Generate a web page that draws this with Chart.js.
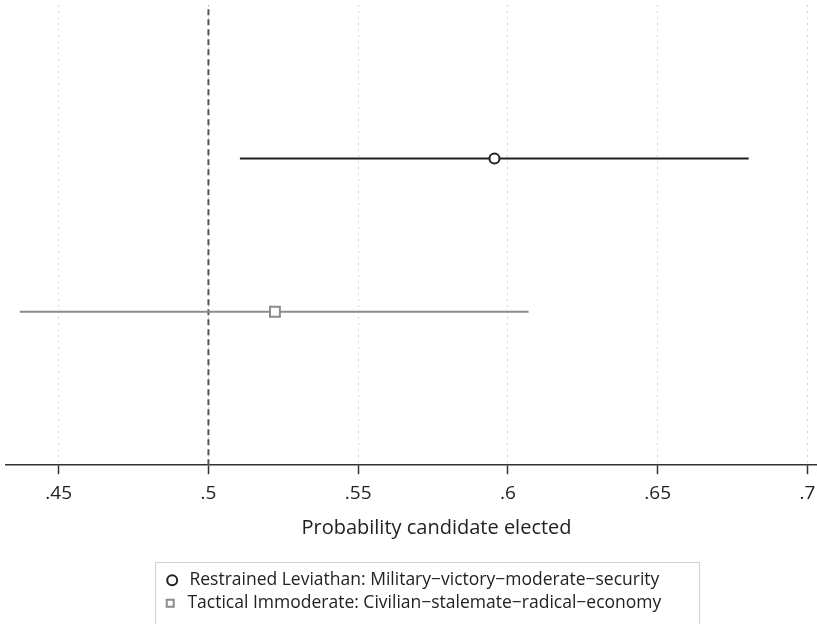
<!DOCTYPE html>
<html>
<head>
<meta charset="utf-8">
<script src="https://cdn.jsdelivr.net/npm/chart.js@4"></script>
<style>
  html, body { margin: 0; padding: 0; background: #fff; }
  #wrap { width: 817px; height: 624px; }
</style>
</head>
<body>
<div id="wrap"><canvas id="grafica" width="817" height="624"></canvas></div>
<script>
// estimates
const seriesNames = ['Restrained Leviathan: Military\u2212victory\u2212moderate\u2212security',
                     'Tactical Immoderate: Civilian\u2212stalemate\u2212radical\u2212economy'];
const rowPos = [2, 1];
const estimates = [0.5955, 0.5222];
const lowerCI = [0.5105, 0.4370];
const upperCI = [0.6804, 0.6069];
const refLine = 0.5;
const tickValues = [0.45, 0.5, 0.55, 0.6, 0.65, 0.7];
const tickLabels = ['.45', '.5', '.55', '.6', '.65', '.7'];

const lineColors = ['#222222', '#8c8c8c'];
const FONT = 'Open Sans';

const datasets = [];
// point estimates first so the legend shows them
seriesNames.forEach((name, i) => {
    datasets.push({
        label: name,
        data: [{x: estimates[i], y: rowPos[i]}],
        showLine: false,
        pointStyle: i === 0 ? 'circle' : 'rect',
        pointRadius: i === 0 ? 5 : 7,
        pointBorderWidth: 2,
        pointBorderColor: lineColors[i],
        pointBackgroundColor: '#ffffff',
        borderColor: lineColors[i],
        backgroundColor: '#ffffff',
        order: 0
    });
});
seriesNames.forEach((name, i) => {
    datasets.push({
        label: 'ci' + i,
        data: [{x: lowerCI[i], y: rowPos[i]}, {x: upperCI[i], y: rowPos[i]}],
        showLine: true,
        borderColor: lineColors[i],
        borderWidth: 2,
        pointRadius: 0,
        order: 1
    });
});
datasets.push({
    label: 'ref',
    data: [{x: refLine, y: 0}, {x: refLine, y: 3}],
    showLine: true,
    borderColor: '#555555',
    borderWidth: 2,
    borderDash: [6, 4],
    pointRadius: 0,
    order: 2
});

const legendBox = {
    id: 'legendBox',
    afterDraw(chart) {
        const lg = chart.legend;
        if (!lg || !lg.legendHitBoxes.length) return;
        const hb = lg.legendHitBoxes;
        let l = Infinity, r = -Infinity, t = Infinity;
        hb.forEach(b => { l = Math.min(l, b.left); r = Math.max(r, b.left + b.width); t = Math.min(t, b.top); });
        const ctx = chart.ctx;
        ctx.save();
        ctx.strokeStyle = '#d0d0d0';
        ctx.lineWidth = 1;
        ctx.strokeRect(Math.round(l - 7) + 0.5, Math.round(t - 10) + 0.5, Math.round(r - l + 44), 80);
        ctx.restore();
    }
};

new Chart(document.getElementById('grafica'), {
    type: 'scatter',
    data: { datasets: datasets },
    plugins: [legendBox],
    options: {
        responsive: false,
        animation: false,
        layout: { autoPadding: false, padding: { top: 5, left: 6, right: 0, bottom: 2 } },
        scales: {
            x: {
                type: 'linear',
                min: 0.4324,
                max: 0.7032,
                afterBuildTicks: (axis) => { axis.ticks = tickValues.map(v => ({value: v})); },
                afterFit: (axis) => { axis.paddingLeft = 0; axis.paddingRight = 0; },
                ticks: {
                    callback: (v) => tickLabels[tickValues.indexOf(v)],
                    color: '#222',
                    font: { family: FONT, size: 19 },
                    padding: 8,
                    maxRotation: 0
                },
                grid: {
                    color: '#d4d4d4',
                    lineWidth: 1,
                    tickColor: '#333',
                    tickLength: 9,
                    tickWidth: 1.5
                },
                border: { color: '#333', width: 1.5, dash: [2, 4] },
                title: {
                    display: true,
                    // en spaces push the centred title right, as in the original
                    text: '\u2002\u2002\u2002\u2002\u2002Probability candidate elected',
                    color: '#222',
                    font: { family: FONT, size: 20 },
                    padding: { top: 3, bottom: 26 }
                }
            },
            y: {
                display: false,
                min: 0,
                max: 3
            }
        },
        plugins: {
            tooltip: { enabled: false },
            legend: {
                position: 'bottom',
                align: 'center',
                labels: {
                    filter: (item) => item.datasetIndex < 2,
                    usePointStyle: true,
                    boxWidth: 17,
                    boxHeight: 7,
                    padding: 5.5,
                    color: '#222',
                    font: { family: FONT, size: 17.5 }
                }
            }
        }
    }
});
</script>
</body>
</html>
